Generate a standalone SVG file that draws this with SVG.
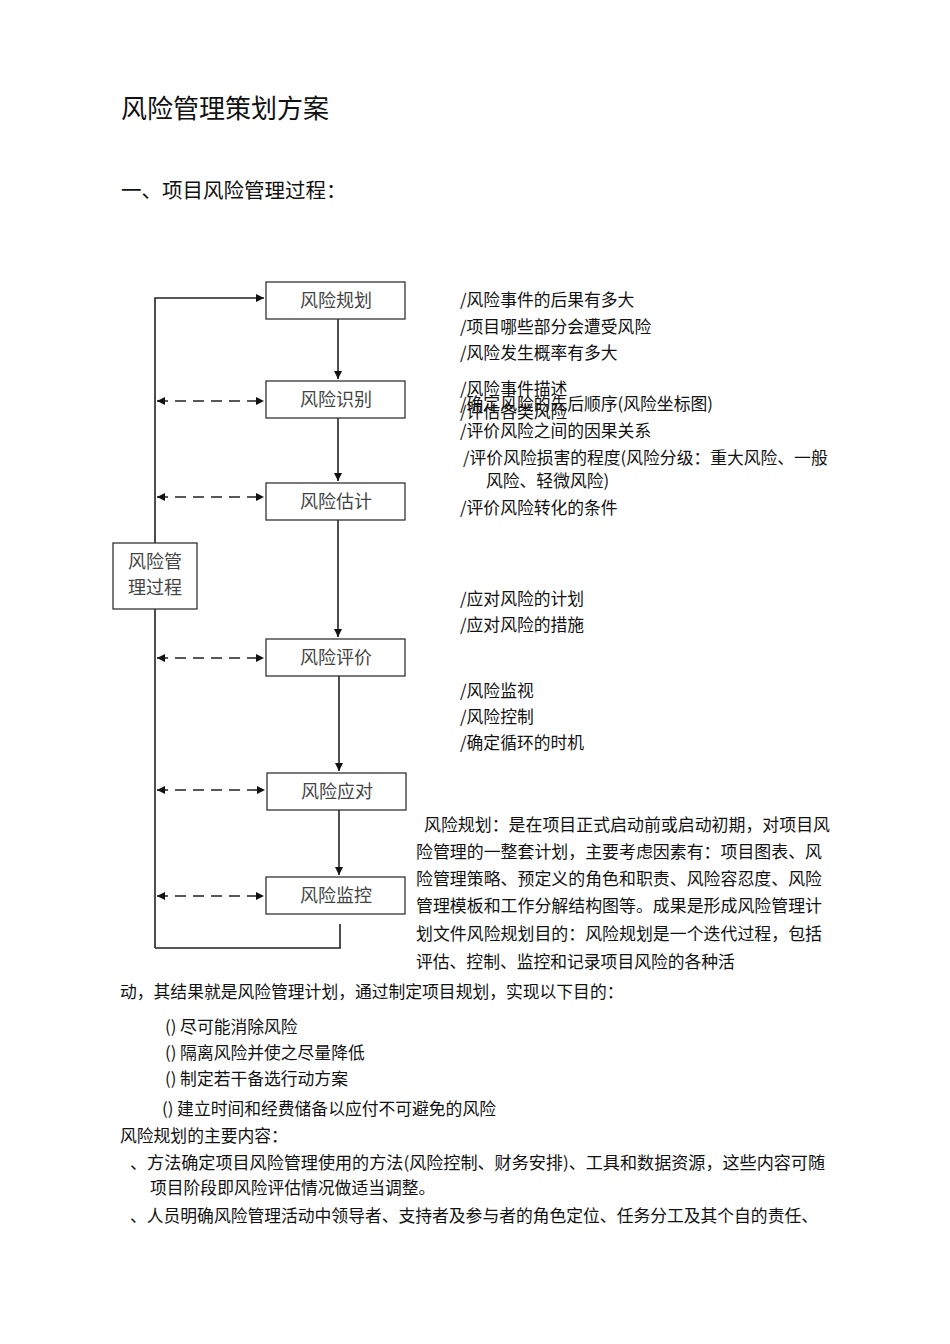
<svg xmlns="http://www.w3.org/2000/svg" width="950" height="1344" viewBox="0 0 950 1344">
<style>
text{font-family:"Noto Sans CJK SC","Noto Sans",sans-serif;fill:#111}
.b{font-size:16.8px}
.n{font-size:18px;fill:#444;text-anchor:middle}
.box{fill:#fff;stroke:#333;stroke-width:1.3}
.ln{stroke:#222;stroke-width:1.6;fill:none}
.ds{stroke:#222;stroke-width:1.6;fill:none;stroke-dasharray:11,7}
</style>
<defs>
<marker id="ah" viewBox="0 0 10 10" refX="10" refY="5" markerWidth="8" markerHeight="8" orient="auto-start-reverse" markerUnits="userSpaceOnUse"><path d="M0,0L10,5L0,10z" fill="#111"/></marker>
</defs>
<text x="121" y="118" style="font-size:26px">风险管理策划方案</text>
<text x="121" y="198" style="font-size:20.5px">一、项目风险管理过程：</text>
<g id="connectors">
<polyline class="ln" points="155,948 155,298 264,298" marker-end="url(#ah)"/>
<polyline class="ln" points="155,948 340,948 340,924"/>
<line class="ln" x1="338" y1="319" x2="338" y2="379" marker-end="url(#ah)"/>
<line class="ln" x1="338" y1="418" x2="338" y2="481" marker-end="url(#ah)"/>
<line class="ln" x1="338" y1="520" x2="338" y2="637" marker-end="url(#ah)"/>
<line class="ln" x1="339" y1="676" x2="339" y2="771" marker-end="url(#ah)"/>
<line class="ln" x1="339" y1="810" x2="339" y2="875" marker-end="url(#ah)"/>
<line class="ds" x1="157" y1="401" x2="264" y2="401" marker-start="url(#ah)" marker-end="url(#ah)"/>
<line class="ds" x1="157" y1="497" x2="264" y2="497" marker-start="url(#ah)" marker-end="url(#ah)"/>
<line class="ds" x1="157" y1="658" x2="264" y2="658" marker-start="url(#ah)" marker-end="url(#ah)"/>
<line class="ds" x1="157" y1="790" x2="265" y2="790" marker-start="url(#ah)" marker-end="url(#ah)"/>
<line class="ds" x1="157" y1="896" x2="264" y2="896" marker-start="url(#ah)" marker-end="url(#ah)"/>
</g>
<g id="n1"><rect class="box" x="266" y="282" width="139" height="37"/><text class="n" x="336" y="307">风险规划</text></g>
<g id="n2"><rect class="box" x="266" y="381" width="139" height="37"/><text class="n" x="336" y="406">风险识别</text></g>
<g id="n3"><rect class="box" x="266" y="483" width="139" height="37"/><text class="n" x="336" y="508">风险估计</text></g>
<g id="n4"><rect class="box" x="266" y="639" width="139" height="37"/><text class="n" x="336" y="664">风险评价</text></g>
<g id="n5"><rect class="box" x="267" y="773" width="139" height="37"/><text class="n" x="337" y="798">风险应对</text></g>
<g id="n6"><rect class="box" x="266" y="877" width="139" height="37"/><text class="n" x="336" y="902">风险监控</text></g>
<g id="n7"><rect class="box" x="113" y="543" width="84" height="66"/><text class="n" x="155" y="568">风险管</text><text class="n" x="155" y="594">理过程</text></g>
<g id="notes" class="b">
<text x="460" y="306">/风险事件的后果有多大</text>
<text x="460" y="333">/项目哪些部分会遭受风险</text>
<text x="460" y="359">/风险发生概率有多大</text>
<text x="460" y="395">/风险事件描述</text>
<text x="460" y="418">/评估各类风险</text>
<text x="460" y="410">/确定风险的先后顺序(风险坐标图)</text>
<text x="460" y="437">/评价风险之间的因果关系</text>
<text x="463" y="464">/评价风险损害的程度(风险分级：重大风险、一般</text>
<text x="486" y="487">风险、轻微风险)</text>
<text x="460" y="514">/评价风险转化的条件</text>
<text x="460" y="605">/应对风险的计划</text>
<text x="460" y="631">/应对风险的措施</text>
<text x="460" y="697">/风险监视</text>
<text x="460" y="723">/风险控制</text>
<text x="460" y="749">/确定循环的时机</text>
</g>
<g id="body" class="b">
<text x="424" y="831" textLength="406" lengthAdjust="spacingAndGlyphs">风险规划：是在项目正式启动前或启动初期，对项目风</text>
<text x="416" y="858" textLength="406" lengthAdjust="spacingAndGlyphs">险管理的一整套计划，主要考虑因素有：项目图表、风</text>
<text x="416" y="885" textLength="406" lengthAdjust="spacingAndGlyphs">险管理策略、预定义的角色和职责、风险容忍度、风险</text>
<text x="416" y="912" textLength="406" lengthAdjust="spacingAndGlyphs">管理模板和工作分解结构图等。成果是形成风险管理计</text>
<text x="416" y="940" textLength="406" lengthAdjust="spacingAndGlyphs">划文件风险规划目的：风险规划是一个迭代过程，包括</text>
<text x="416" y="968">评估、控制、监控和记录项目风险的各种活</text>
<text x="120" y="998">动，其结果就是风险管理计划，通过制定项目规划，实现以下目的：</text>
<text x="165" y="1033">() 尽可能消除风险</text>
<text x="165" y="1059">() 隔离风险并使之尽量降低</text>
<text x="165" y="1085">() 制定若干备选行动方案</text>
<text x="162" y="1115">() 建立时间和经费储备以应付不可避免的风险</text>
<text x="120" y="1142">风险规划的主要内容：</text>
<text x="130" y="1169" textLength="695" lengthAdjust="spacingAndGlyphs">、方法确定项目风险管理使用的方法(风险控制、财务安排)、工具和数据资源，这些内容可随</text>
<text x="150" y="1194">项目阶段即风险评估情况做适当调整。</text>
<text x="130" y="1222" textLength="688" lengthAdjust="spacingAndGlyphs">、人员明确风险管理活动中领导者、支持者及参与者的角色定位、任务分工及其个自的责任、</text>
</g>
</svg>
